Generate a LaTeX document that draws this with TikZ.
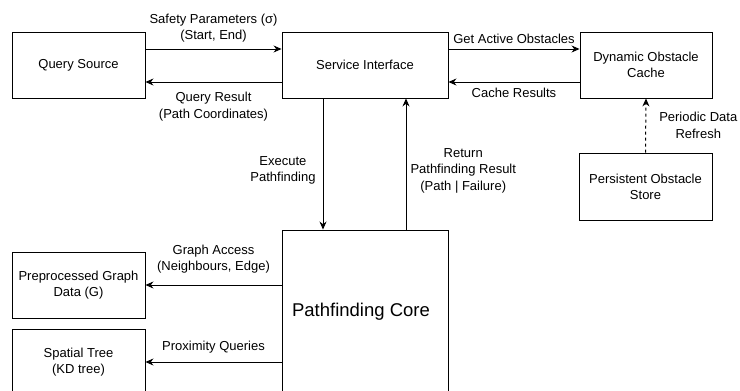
\documentclass[tikz,border=0pt]{standalone}
\usepackage{fontspec}
\setmainfont{Liberation Sans}
\usetikzlibrary{arrows.meta}

\begin{document}
\begin{tikzpicture}[x=1pt,y=-1pt,
    box/.style={draw, line width=0.9pt, align=center, inner sep=0pt,
        font=\fontsize{13}{16}\selectfont},
    flow/.style={-{Stealth[length=8pt,width=7pt]}, line width=1pt},
    lbl/.style={align=center, inner sep=1pt, font=\fontsize{13}{16.5}\selectfont}]
\useasboundingbox (0,0) rectangle (740,391);

% the blocks
\node (qsrc)  [box, minimum width=133pt, minimum height=66pt] at (78.5,65)  {Query Source};
\node (svc)   [box, minimum width=166pt, minimum height=66pt] at (365,65)   {Service Interface};
\node (cache) [box, minimum width=132pt, minimum height=66pt] at (646,65)   {Dynamic Obstacle\\Cache};
\node (store) [box, minimum width=133pt, minimum height=67pt] at (645.5,186.5) {Persistent Obstacle\\Store};
\node (core)  [box, minimum width=166pt, minimum height=164pt,
    font=\fontsize{18.5}{22}\selectfont] at (365,312) {\hspace*{-8pt}Pathfinding Core};
\node (graph) [box, minimum width=133pt, minimum height=66pt] at (78.5,285) {Preprocessed Graph\\Data (G)};
\node (ktree) [box, minimum width=133pt, minimum height=66pt] at (78.5,362) {Spatial Tree\\(KD tree)};

% query in and out
\draw[flow] ([yshift=16pt]qsrc.east) -- ([yshift=16pt]svc.west)
    node[lbl, midway, above=5pt] {Safety Parameters (σ)\\(Start, End)};
\draw[flow] ([yshift=-17pt]svc.west) -- ([yshift=-17pt]qsrc.east)
    node[lbl, midway, below=9pt] {Query Result\\(Path Coordinates)};

% obstacle cache
\draw[flow] ([yshift=16pt]svc.east) -- ([yshift=16pt]cache.west)
    node[lbl, midway, above=4pt] {Get Active Obstacles};
\draw[flow] ([yshift=-17pt]cache.west) -- ([yshift=-17pt]svc.east)
    node[lbl, midway, below=5pt] {Cache Results};
\draw[flow, dashed] (store.north) -- (cache.south)
    node[lbl, midway, right=12pt] {Periodic Data\\Refresh};

% core calls
\draw[flow] ([xshift=-42pt]svc.south) -- ([xshift=-42pt]core.north)
    node[lbl, pos=0.55, left=6pt] {Execute\\Pathfinding};
\draw[flow] ([xshift=41pt]core.north) -- ([xshift=41pt]svc.south)
    node[lbl, pos=0.45, right=3pt] {Return\\Pathfinding Result\\(Path \textbar{} Failure)};

% data access
\draw[flow] (core.west |- graph) -- (graph.east)
    node[lbl, midway, above=10pt] {Graph Access\\(Neighbours, Edge)};
\draw[flow] (core.west |- ktree) -- (ktree.east)
    node[lbl, midway, above=7pt] {Proximity Queries};

\end{tikzpicture}
\end{document}
